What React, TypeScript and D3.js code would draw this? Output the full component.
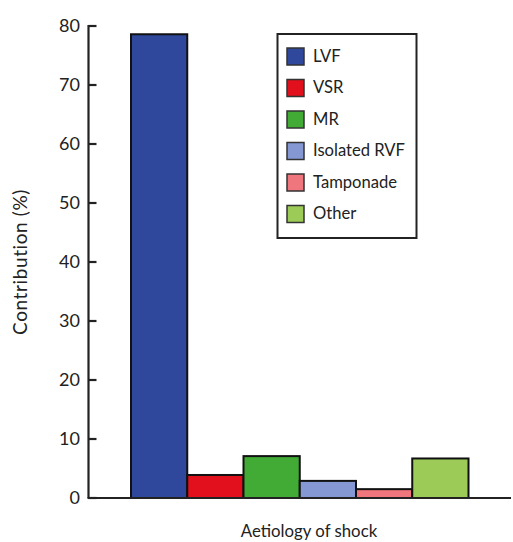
import React from "react";
import * as d3 from "d3";

const categories = ["LVF", "VSR", "MR", "Isolated RVF", "Tamponade", "Other"];
const values = [78.6, 3.9, 7.1, 2.9, 1.5, 6.7];
const colors = ["#2f489c", "#e2101c", "#41ab35", "#8598d4", "#ee767c", "#9ccb57"];
const yTicks = [0, 10, 20, 30, 40, 50, 60, 70, 80];

const W = 513;
const H = 542;
const FONT = "Lato, 'Open Sans', sans-serif";

export default function App() {
  const y = d3.scaleLinear().domain([0, 80]).range([498, 26]);
  const x = d3.scaleBand<string>().domain(categories).range([131, 468.5]).padding(0);
  const axisX = 88.5;

  return (
    <svg width={W} height={H} style={{ position: "absolute", left: 0, top: 0 }}>
      <rect width={W} height={H} fill="#fff" />
      {categories.map((c, i) => (
        <rect
          key={c}
          x={x(c)!}
          y={y(values[i])}
          width={x.bandwidth()}
          height={y(0) - y(values[i])}
          fill={colors[i]}
          stroke="#111"
          strokeWidth={2}
        />
      ))}
      <line x1={axisX} x2={axisX} y1={y(80) - 1} y2={y(0)} stroke="#222" strokeWidth={2.2} />
      <line x1={axisX - 1} x2={511} y1={y(0)} y2={y(0)} stroke="#222" strokeWidth={2.2} />
      {yTicks.map((t) => (
        <g key={t}>
          <line x1={axisX} x2={axisX + 8} y1={y(t)} y2={y(t)} stroke="#222" strokeWidth={2.2} />
          <text
            x={80}
            y={y(t)}
            dy="0.36em"
            textAnchor="end"
            fontFamily={FONT}
            fontSize={18}
            fill="#222"
          >
            {t}
          </text>
        </g>
      ))}
      <text
        transform={`translate(27,${262}) rotate(-90)`}
        textAnchor="middle"
        fontFamily={FONT}
        fontSize={19}
        letterSpacing={0.6}
        fill="#222"
      >
        Contribution (%)
      </text>
      <text x={309} y={537} textAnchor="middle" fontFamily={FONT} fontSize={16.8} fill="#222">
        Aetiology of shock
      </text>
      <rect x={277.5} y={34} width={139} height={204} fill="#fff" stroke="#222" strokeWidth={2} />
      {categories.map((c, i) => {
        const cy = 56 + i * 31.5;
        return (
          <g key={c}>
            <rect x={287} y={cy - 8} width={17} height={17} fill={colors[i]} stroke="#333" strokeWidth={1.5} />
            <text x={313} y={cy} dy="0.36em" fontFamily={FONT} fontSize={16.6} fill="#222">
              {c}
            </text>
          </g>
        );
      })}
    </svg>
  );
}
